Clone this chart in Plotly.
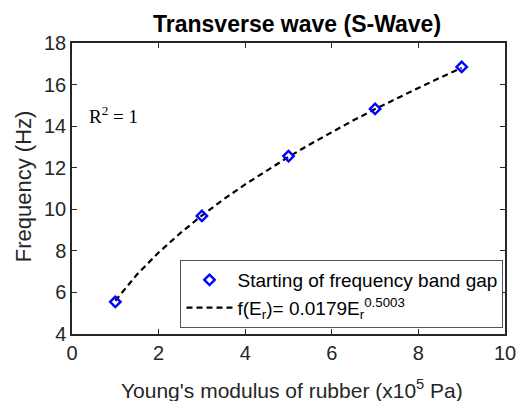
import plotly.graph_objects as go

# Data
modulus = [1, 3, 5, 7, 9]                      # Young's modulus (x10^5 Pa)
freq = [5.55, 9.68, 12.56, 14.83, 16.85]       # start of band gap (Hz)

# Fitted curve values
fit_x = [1, 1.5, 2, 2.5, 3, 3.5, 4, 4.5, 5, 5.5, 6, 6.5, 7, 7.5, 8, 8.5, 9]
fit_y = [5.60, 6.86, 7.92, 8.85, 9.70, 10.48, 11.20, 11.88, 12.52, 13.13,
         13.72, 14.28, 14.82, 15.34, 15.84, 16.33, 16.80]

x_ticks = [0, 2, 4, 6, 8, 10]
y_ticks = [4, 6, 8, 10, 12, 14, 16, 18]

title_text = "Transverse wave (S-Wave)"
x_title = "Young's modulus of rubber (x10<sup>5</sup> Pa)"
y_title = "Frequency (Hz)"
name_points = "Starting of frequency band gap"
name_fit = "f(E<sub>r</sub>)= 0.0179E<sub>r</sub><sup>0.5003</sup>"

W, H = 528, 401
ML, MR, MT, MB = 72, 21, 43, 67
PW, PH = W - ML - MR, H - MT - MB

def px(xp):
    return (xp - ML) / PW

def py(yp):
    return (H - MB - yp) / PH

INK = "#262626"
FONT = "Liberation Sans, Arial, sans-serif"

fig = go.Figure()
fig.add_trace(go.Scatter(
    x=fit_x, y=fit_y, mode="lines", name=name_fit, legendrank=2,
    line=dict(color="black", width=2.2, dash="6px,4px"),
))
fig.add_trace(go.Scatter(
    x=modulus, y=freq, mode="markers", name=name_points, legendrank=1,
    marker=dict(symbol="diamond-open", size=8, color="#0000FF",
                line=dict(width=2.4, color="#0000FF")),
))

axis_common = dict(
    showline=True, linecolor=INK, linewidth=1.5, mirror="ticks",
    ticks="inside", ticklen=5, tickwidth=1, tickcolor=INK,
    showgrid=False, zeroline=False,
    tickfont=dict(family=FONT, size=20, color=INK),
)

fig.update_layout(
    width=W, height=H,
    margin=dict(l=ML, r=MR, t=MT, b=MB),
    paper_bgcolor="white", plot_bgcolor="white",
    xaxis=dict(range=[0, 10], tickvals=x_ticks, **axis_common),
    yaxis=dict(range=[4, 18], tickvals=y_ticks, **axis_common),
    showlegend=True,
    legend=dict(
        x=px(181), y=py(260), xanchor="left", yanchor="top",
        bgcolor="white", bordercolor="#555555", borderwidth=1,
        font=dict(family=FONT, size=19, color="black"),
        tracegroupgap=0, itemwidth=46,
    ),
)

annotations = [
    dict(text="<b>" + title_text + "</b>", x=px(298), y=py(24),
         font=dict(family=FONT, size=23, color="black")),
    dict(text=x_title, x=px(293), y=py(389),
         font=dict(family=FONT, size=21, color=INK)),
    dict(text=y_title, x=px(23), y=py(186), textangle=-90,
         font=dict(family=FONT, size=22, color=INK)),
    dict(text="R<sup>2</sup> = 1", x=px(87), y=py(115), xanchor="left",
         font=dict(family="Liberation Serif, Times New Roman, serif", size=19,
                   color="black")),
]
for a in annotations:
    a.setdefault("xanchor", "center")
    a.update(xref="paper", yref="paper", yanchor="middle", showarrow=False)
    fig.add_annotation(**a)

fig.write_html("out.html")
